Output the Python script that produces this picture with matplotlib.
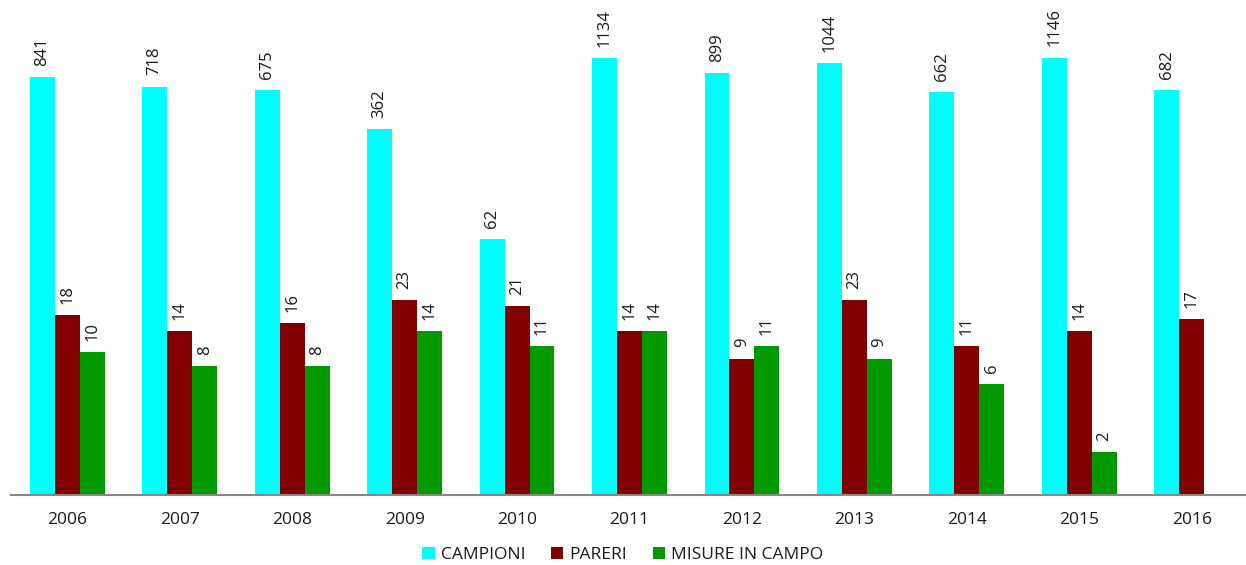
import matplotlib
matplotlib.use("Agg")
import matplotlib.pyplot as plt
import numpy as np

years = ["2006", "2007", "2008", "2009", "2010", "2011", "2012", "2013", "2014", "2015", "2016"]
campioni = [841, 718, 675, 362, 62, 1134, 899, 1044, 662, 1146, 682]
pareri = [18, 14, 16, 23, 21, 14, 9, 23, 11, 14, 17]
misure = [10, 8, 8, 14, 11, 14, 11, 9, 6, 2, None]

series = [("CAMPIONI", campioni, "#00FFFF"),
          ("PARERI", pareri, "#800000"),
          ("MISURE IN CAMPO", misure, "#009900")]

plt.rcParams['font.family'] = ['Open Sans', 'DejaVu Sans']

fig = plt.figure(figsize=(12.46, 5.65), dpi=100)
ax = fig.add_axes([11/1246, 70/565, 1237/1246, 485/565])

x = np.arange(len(years))
w = 0.222
for i, (name, vals, col) in enumerate(series):
    xs = [xi + (i - 1) * w for xi, v in zip(x, vals) if v is not None]
    vs = [v for v in vals if v is not None]
    ax.bar(xs, vs, width=w, color=col, label=name, linewidth=0)
    for xx, v in zip(xs, vs):
        ax.annotate(str(v), (xx, v), xytext=(0, 8), textcoords="offset points",
                    rotation=90, ha="center", va="bottom", fontsize=12, color="#1a1a1a")

ax.set_yscale("log")
ax.set_ylim(1, 10 ** (485 / 143))
ax.set_xlim(-0.5, len(years) - 0.5)
ax.set_xticks(x)
ax.set_xticklabels(years, fontsize=12.5, color="#1a1a1a")
ax.tick_params(axis="x", length=0, pad=12)
ax.set_yticks([])
ax.yaxis.set_minor_locator(matplotlib.ticker.NullLocator())
for s in ["top", "right", "left"]:
    ax.spines[s].set_visible(False)
ax.spines["bottom"].set_color("#888888")
ax.spines["bottom"].set_linewidth(1.5)

leg = fig.legend(loc="center", bbox_to_anchor=(0.5, 1 - 555/565), ncol=3, frameon=False,
                 fontsize=12.5, handlelength=0.7, handleheight=0.7, columnspacing=1.5,
                 handletextpad=0.35)
for t in leg.get_texts():
    t.set_color("#1a1a1a")

fig.savefig("out.png", dpi=100)
